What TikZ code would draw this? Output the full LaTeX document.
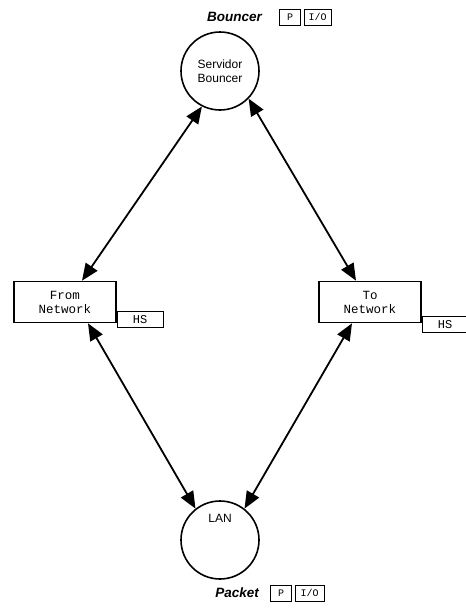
\documentclass[tikz,border=0pt]{standalone}
\usepackage{fontspec}
\setmainfont{Liberation Sans}
\setmonofont{Liberation Mono}
\usetikzlibrary{arrows.meta, positioning, calc}

\tikzset{
  place/.style={draw, line width=1.6pt, circle, minimum size=78pt, inner sep=0pt,
                align=center, font=\fontsize{12}{14}\selectfont},
  trans/.style={draw, line width=1.6pt, minimum width=102pt, minimum height=41pt,
                align=center, font=\ttfamily\fontsize{12.5}{14}\selectfont},
  tagbox/.style={draw, line width=0.6pt, minimum height=16pt, inner sep=1pt,
                 font=\ttfamily\fontsize{10}{11}\selectfont},
  portlbl/.style={inner sep=0pt, font=\bfseries\itshape\fontsize{13.5}{15}\selectfont},
  arc/.style={line width=1.8pt,
              {Triangle[length=17pt,width=14pt]}-{Triangle[length=17pt,width=14pt]}},
}

\begin{document}
\begin{tikzpicture}[x=1pt, y=-1pt]
  \useasboundingbox (0,0) rectangle (466,608);

  % places
  \node[place] (srv) at (220,71) {Servidor\\Bouncer};
  \node[place] (lan) at (220,540) {};
  \node[inner sep=0pt, font=\fontsize{12}{14}\selectfont] (lanlbl) at (220,518) {LAN};

  % transitions
  \node[trans] (fromnet) at (65,302) {From\\Network};
  \node[trans] (tonet) at (370,302) {To\\Network};

  % HS tags
  \node[tagbox, font=\ttfamily\fontsize{12}{13}\selectfont, minimum width=46pt,
        anchor=north west] (fromhs) at (fromnet.east |- 0,311) {HS};
  \node[tagbox, font=\ttfamily\fontsize{12}{13}\selectfont, minimum width=46pt,
        anchor=north west, text width=40pt, align=center] (tohs) at (tonet.east |- 0,316) {HS};

  % port tags
  \node[tagbox, minimum width=21pt] (bp) at (290,17) {P};
  \node[tagbox, minimum width=27pt, right=3pt of bp] (bio) {I/O};
  \node[portlbl, left=17pt of bp] (bnc) {Bouncer};

  \node[tagbox, minimum width=21pt] (pp) at (281,593) {P};
  \node[tagbox, minimum width=29pt, right=3pt of pp] (pio) {I/O};
  \node[portlbl, left=11pt of pp] (pkt) {Packet};

  % arcs
  \draw[arc] (srv.243) -- ([xshift=17pt]fromnet.north);
  \draw[arc] (srv.-44) -- ([xshift=-14pt]tonet.north);
  \draw[arc] ([xshift=23pt]fromnet.south) -- (lan.128);
  \draw[arc] ([xshift=-18pt]tonet.south) -- (lan.52);
\end{tikzpicture}
\end{document}
